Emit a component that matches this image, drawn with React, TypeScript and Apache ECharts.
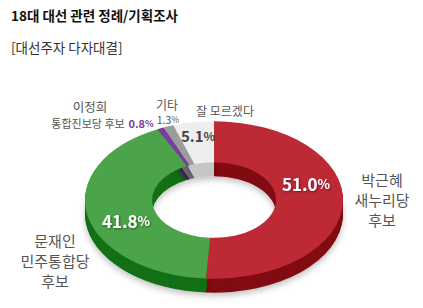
import React, { useEffect, useRef } from 'react';
import * as echarts from 'echarts';

const title = '18대 대선 관련 정례/기획조사';
const subtitle = '[대선주자 다자대결]';
const categories = ['박근혜\n새누리당\n후보', '문재인\n민주통합당\n후보', '이정희', '기타', '잘 모르겠다'];
const subNames = ['', '', '통합진보당 후보', '', ''];
const values = [51.0, 41.8, 0.8, 1.3, 5.1];
const topColors = ['#BD2A36', '#4BA449', '#7A3C9E', '#9C9C9C', '#EEEEEE'];
const sideColors = ['#820C12', '#137016', '#4B1E6E', '#6F6F6F', '#C6C6C6'];

const CX = 214;
const CY = 200;
const R = 129;
const R0 = 62;
const SY = 0.61;
const DEPTH = 14;
const FONT = '"Noto Sans CJK KR", "Noto Sans", sans-serif';

function sliceAngles(i: number): [number, number] {
  const total = values.reduce((a, b) => a + b, 0);
  let c = 0;
  for (let k = 0; k < i; k++) c += values[k];
  const s = -Math.PI / 2 + (c / total) * Math.PI * 2;
  const e = s + (values[i] / total) * Math.PI * 2;
  return [s, e];
}

function pct(v: number) {
  return v.toFixed(1);
}

export default function App() {
  const ref = useRef<HTMLDivElement>(null);
  useEffect(() => {
    document.body.style.margin = '0';
    const chart = echarts.init(ref.current!, undefined, { renderer: 'svg' });
    const data = values.map((v) => v);

    const wallItem = (params: any) => {
      const i = params.dataIndex;
      const [s, e] = sliceAngles(i);
      const children: any[] = [];
      for (let d = DEPTH; d >= 1; d -= 1) {
        children.push({
          type: 'sector',
          x: CX,
          y: CY + d,
          scaleY: SY,
          shape: { cx: 0, cy: 0, r: R, r0: R0, startAngle: s, endAngle: e, clockwise: true },
          style: d === DEPTH
            ? { fill: sideColors[i], shadowBlur: 6, shadowColor: 'rgba(0,0,0,0.25)', shadowOffsetY: 3 }
            : { fill: sideColors[i] },
        });
      }
      return { type: 'group', children };
    };

    const topItem = (params: any) => {
      const i = params.dataIndex;
      const [s, e] = sliceAngles(i);
      return {
        type: 'sector',
        x: CX,
        y: CY,
        scaleY: SY,
        shape: { cx: 0, cy: 0, r: R, r0: R0, startAngle: s, endAngle: e, clockwise: true },
        style: { fill: topColors[i] },
      };
    };

    const pctText = (v: number, x: number, y: number, color: string, big: number, small: number, weight: string, lh: number, shadow = false) => {
      const sh = shadow
        ? { textShadowColor: 'rgba(0,0,0,0.45)', textShadowBlur: 2, textShadowOffsetX: 1, textShadowOffsetY: 1 }
        : {};
      return {
        type: 'text',
        x,
        y,
        style: {
          text: `{n|${pct(v)}}{p|%}`,
          align: 'center',
          verticalAlign: 'middle',
          rich: {
            n: { fontSize: big, fontWeight: weight, fill: color, fontFamily: FONT, lineHeight: lh, ...sh },
            p: { fontSize: small, fontWeight: weight, fill: color, fontFamily: FONT, lineHeight: lh, ...sh },
          },
        },
        z: 10,
      };
    };

    chart.setOption({
      animation: false,
      backgroundColor: '#ffffff',
      series: [
        { type: 'custom', coordinateSystem: 'none', renderItem: wallItem, data, z: 1, silent: true },
        { type: 'custom', coordinateSystem: 'none', renderItem: topItem, data, z: 2, silent: true },
      ],
      graphic: [
        { type: 'text', x: 11, y: 15, style: { text: title, fontSize: 13.5, fontWeight: 'bold', fill: '#111', fontFamily: FONT, verticalAlign: 'middle' } },
        { type: 'text', x: 11, y: 47, style: { text: subtitle, fontSize: 13.5, fill: '#333', fontFamily: FONT, verticalAlign: 'middle' } },
        { type: 'text', x: 382, y: 199, style: { text: categories[0], fontSize: 15, lineHeight: 20, fill: '#555', fontFamily: FONT, align: 'center', verticalAlign: 'middle' } },
        { type: 'text', x: 55, y: 260, style: { text: categories[1], fontSize: 15, lineHeight: 20, fill: '#555', fontFamily: FONT, align: 'center', verticalAlign: 'middle' } },
        { type: 'text', x: 90, y: 106, style: { text: categories[2], fontSize: 12.5, lineHeight: 13, fill: '#555', fontFamily: FONT, align: 'center', verticalAlign: 'middle' } },
        { type: 'text', x: 88, y: 123, style: { text: subNames[2], fontSize: 11, lineHeight: 12, fill: '#555', fontFamily: FONT, align: 'center', verticalAlign: 'middle' } },
        { type: 'text', x: 167, y: 104, style: { text: categories[3], fontSize: 12, lineHeight: 12, fill: '#555', fontFamily: FONT, align: 'center', verticalAlign: 'middle' } },
        { type: 'text', x: 225, y: 110, style: { text: categories[4], fontSize: 12, lineHeight: 13, fill: '#555', fontFamily: FONT, align: 'center', verticalAlign: 'middle' } },
        pctText(values[0], 306, 183, '#ffffff', 17, 13, 'bold', 18, true),
        pctText(values[1], 126, 220, '#ffffff', 17, 13, 'bold', 18, true),
        pctText(values[2], 141, 123, '#7A3C9E', 11, 9, 'bold', 11),
        pctText(values[3], 168, 119, '#555', 10.5, 8.5, 'normal', 10),
        pctText(values[4], 198, 135, '#444', 15, 12, 'bold', 16),
      ],
    });
    return () => chart.dispose();
  }, []);
  return <div ref={ref} style={{ width: 423, height: 308 }} />;
}
